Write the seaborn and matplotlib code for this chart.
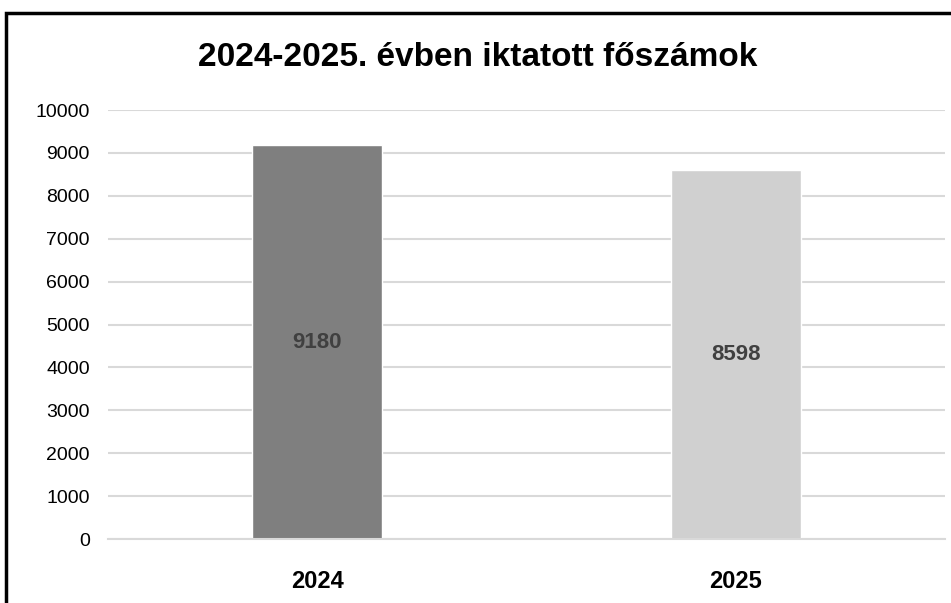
import matplotlib
matplotlib.use("Agg")
import matplotlib.pyplot as plt
import seaborn as sns
import pandas as pd
from matplotlib.patches import Rectangle

# adatok
evek = ["2024", "2025"]
foszamok = [9180, 8598]
szinek = ["#7f7f7f", "#d0d0d0"]
y_ticks = list(range(0, 10001, 1000))

df = pd.DataFrame({"ev": evek, "db": foszamok})

sns.set_style("white")
plt.rcParams["font.family"] = ["Liberation Sans Narrow", "Liberation Sans", "DejaVu Sans"]

fig = plt.figure(figsize=(9.51, 6.03), dpi=100)
ax = fig.add_axes([108 / 951, 1 - 539 / 603, 837 / 951, 429 / 603])

sns.barplot(data=df, x="ev", y="db", hue="ev", palette=szinek,
            width=0.31, legend=False, ax=ax, saturation=1)

ax.set_ylim(0, 10000)
ax.set_yticks(y_ticks)
ax.set_yticklabels([str(t) for t in y_ticks], fontsize=14, color="black")
ax.grid(axis="y", color="#d9d9d9", linewidth=1.5)
ax.set_axisbelow(True)
ax.set_xlabel("")
ax.set_ylabel("")
for s in ["top", "right", "left"]:
    ax.spines[s].set_visible(False)
ax.spines["bottom"].set_color("#d9d9d9")
ax.spines["bottom"].set_linewidth(1.5)
ax.tick_params(axis="y", length=0, pad=13)
ax.tick_params(axis="x", length=0, pad=22)
for lbl in ax.get_xticklabels():
    lbl.set_fontweight("bold")
    lbl.set_fontsize(17)
    lbl.set_color("black")

# értékek az oszlopok közepén
for i, v in enumerate(foszamok):
    ax.text(i, v / 2, str(v), ha="center", va="center",
            fontsize=16, fontweight="bold", color="#404040")

fig.text(478 / 951, 1 - 58 / 603, "2024-2025. évben iktatott főszámok",
         ha="center", va="center", fontsize=24, fontweight="bold", color="black")

# keret
fig.add_artist(Rectangle((6 / 951, -0.1), 1.2, 1 - 13 / 603 + 0.1,
                         transform=fig.transFigure, fill=False,
                         edgecolor="black", linewidth=2.5, clip_on=False))

fig.savefig("out.png", dpi=100)
